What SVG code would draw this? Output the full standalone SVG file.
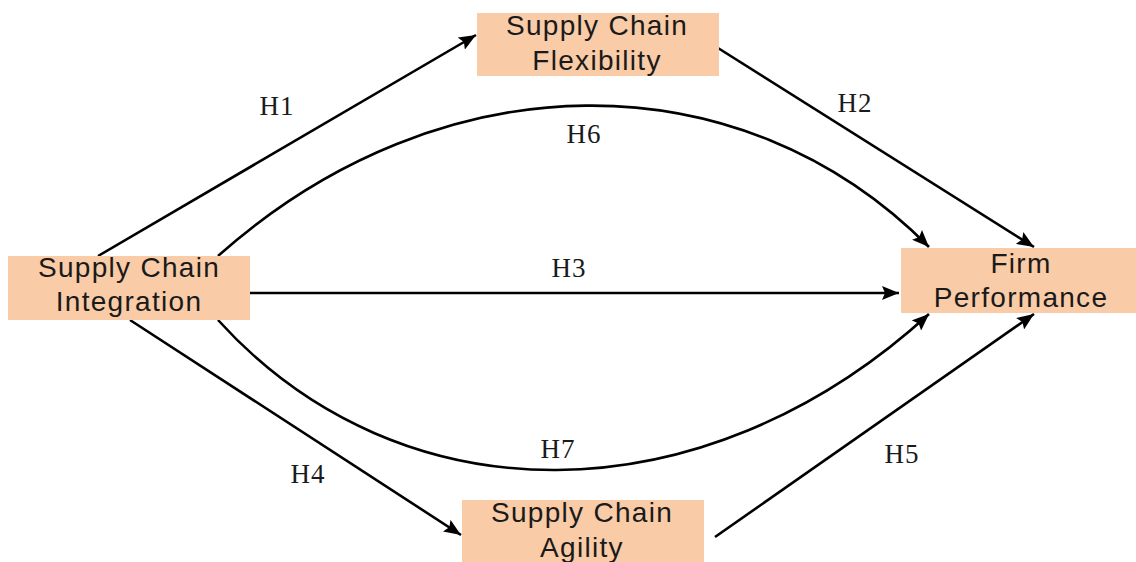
<svg xmlns="http://www.w3.org/2000/svg" width="1136" height="562" viewBox="0 0 1136 562">
  <style>
    .box { fill: #F9CBA6; }
    .nt { font-family: "Liberation Sans", Arial, sans-serif; font-size: 28px; letter-spacing: 1.3px; fill: #1a1a1a; text-anchor: middle; }
    .lbl { font-family: "Liberation Serif", "Times New Roman", serif; font-size: 27px; fill: #1a1a1a; text-anchor: middle; letter-spacing: 1px; }
    .edge { fill: none; stroke: #000; stroke-width: 2.6; marker-end: url(#arr); }
  </style>
  <defs>
    <marker id="arr" markerUnits="userSpaceOnUse" markerWidth="18" markerHeight="14" refX="17" refY="7" orient="auto">
      <path d="M0,0 L17,7 L0,14 L3,7 z" fill="#000"/>
    </marker>
  </defs>
  <rect width="1136" height="562" fill="#fff"/>
  <g id="connectors">
    <path class="edge" d="M98,256 L476,35"/>
    <path class="edge" d="M718,48 L1034,247"/>
    <path class="edge" d="M218,256 C440,58 740,56 929,247"/>
    <path class="edge" d="M250,293 L899,293"/>
    <path class="edge" d="M218,320 C400,521 702,521 929,314"/>
    <path class="edge" d="M130,320 L461,535"/>
    <path class="edge" d="M715,537 L1034,314"/>
    <text class="lbl" x="277" y="115">H1</text>
    <text class="lbl" x="855" y="112">H2</text>
    <text class="lbl" x="584" y="143">H6</text>
    <text class="lbl" x="569" y="277">H3</text>
    <text class="lbl" x="558" y="458">H7</text>
    <text class="lbl" x="308" y="483">H4</text>
    <text class="lbl" x="902" y="463">H5</text>
  </g>
  <g id="sci">
    <rect class="box" x="8" y="256" width="242" height="64"/>
    <text class="nt" x="129" y="277">Supply Chain</text>
    <text class="nt" x="129" y="311">Integration</text>
  </g>
  <g id="scf">
    <rect class="box" x="477" y="13" width="242" height="63"/>
    <text class="nt" x="597" y="35">Supply Chain</text>
    <text class="nt" x="597" y="70">Flexibility</text>
  </g>
  <g id="fp">
    <rect class="box" x="901" y="248" width="235" height="65"/>
    <text class="nt" x="1021" y="273">Firm</text>
    <text class="nt" x="1021" y="307">Performance</text>
  </g>
  <g id="sca">
    <rect class="box" x="462" y="500" width="242" height="62"/>
    <text class="nt" x="582" y="522">Supply Chain</text>
    <text class="nt" x="582" y="557">Agility</text>
  </g>
</svg>
